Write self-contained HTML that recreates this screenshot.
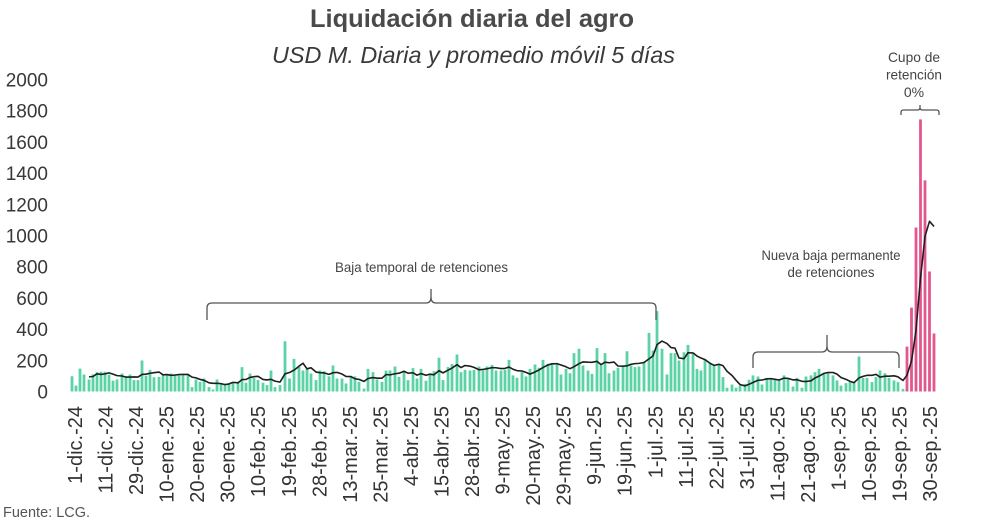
<!DOCTYPE html>
<html>
<head>
<meta charset="utf-8">
<style>
  html,body{margin:0;padding:0;background:#fff;}
  svg{display:block;}
  text{font-family:"Liberation Sans",Arial,sans-serif;}
</style>
</head>
<body>
<svg width="992" height="524" viewBox="0 0 992 524" xmlns="http://www.w3.org/2000/svg">
  <rect width="992" height="524" fill="#fff"/>
  <!-- Title -->
  <text x="472" y="27" text-anchor="middle" font-size="25" font-weight="bold" fill="#4a4a4a" textLength="324" lengthAdjust="spacingAndGlyphs">Liquidación diaria del agro</text>
  <text x="473.5" y="63" text-anchor="middle" font-size="23" font-style="italic" fill="#3a3a3a" textLength="403" lengthAdjust="spacingAndGlyphs">USD M. Diaria y promedio móvil 5 días</text>

  <!-- Y axis labels -->
  <g font-size="19" fill="#383838" text-anchor="end">
    <text x="48" y="398.5">0</text>
    <text x="48" y="367.3">200</text>
    <text x="48" y="336.1">400</text>
    <text x="48" y="304.9">600</text>
    <text x="48" y="273.7">800</text>
    <text x="48" y="242.5">1000</text>
    <text x="48" y="211.3">1200</text>
    <text x="48" y="180.1">1400</text>
    <text x="48" y="148.9">1600</text>
    <text x="48" y="117.7">1800</text>
    <text x="48" y="86.5">2000</text>
  </g>

  <!-- Bars -->
  <g transform="translate(0,391.5) scale(1,-0.156)">
    <path fill="none" stroke="#5cd3a6" stroke-width="2.8" d="M72 0V98M76 0V38M80 0V147M84 0V109M89 0V77M93 0V110M97 0V124M101 0V127M105 0V127M109 0V108M113 0V70M117 0V77M122 0V115M126 0V92M130 0V109M134 0V73M138 0V73M142 0V199M146 0V101M150 0V139M154 0V91M159 0V94M163 0V109M167 0V109M171 0V115M175 0V101M179 0V111M183 0V111M188 0V109M192 0V28M196 0V77M200 0V62M204 0V83M209 0V28M213 0V13M217 0V77M221 0V51M225 0V51M229 0V51M233 0V62M238 0V62M242 0V156M246 0V56M250 0V115M254 0V86M258 0V73M263 0V56M267 0V41M271 0V135M275 0V28M280 0V41M285 0V322M289.5 0V83M294 0V209M299 0V156M303 0V135M307 0V145M311 0V115M316 0V73M320 0V135M324 0V130M329 0V97M333 0V167M337 0V83M342 0V83M346 0V51M351 0V94M355 0V97M359 0V62M364 0V19M368 0V145M373 0V124M377 0V77M382 0V62M386 0V135M390 0V135M395 0V160M399 0V94M404 0V124M408 0V73M413 0V150M417 0V83M421 0V145M426 0V69M430 0V109M434 0V130M439 0V216M443 0V73M448 0V156M452 0V177M457 0V237M461 0V124M465 0V139M470 0V135M474 0V139M479 0V160M483 0V135M487 0V160M492 0V171M496 0V135M501 0V135M505 0V139M509 0V203M513 0V103M517 0V88M522 0V124M526 0V96M530 0V145M535 0V173M539 0V152M543 0V203M548 0V178M552 0V182M557 0V178M561 0V109M566 0V145M570 0V117M574 0V246M579 0V274M583 0V167M588 0V135M592 0V113M597 0V278M601 0V167M605 0V246M609 0V117M614 0V135M618 0V152M623 0V160M627 0V258M631 0V167M635 0V156M639 0V160M644 0V188M649 0V376M653 0V263M657 0V515M662 0V274M667 0V109M671 0V246M675 0V246M679 0V199M684 0V252M688 0V299M693 0V241M697 0V145M701 0V135M705 0V203M710 0V182M714 0V173M719 0V178M723 0V92M727 0V24M732 0V45M736 0V24M740 0V38M745 0V49M749 0V75M753 0V103M758 0V96M762 0V45M767 0V87M771 0V81M775 0V81M779 0V75M784 0V103M788 0V81M793 0V32M797 0V87M802 0V24M806 0V96M811 0V103M815 0V124M819 0V145M824 0V113M828 0V124M833 0V103M837 0V71M841 0V38M846 0V54M850 0V60M854 0V60M859 0V224M863 0V87M867 0V87M872 0V60M876 0V92M880 0V135M885 0V117M889 0V87M894 0V71M898 0V60M903 0V17"/>
    <path fill="none" stroke="#e2578c" stroke-width="2.8" d="M907 0V288M911.5 0V538M916 0V1051M920.5 0V1744M925 0V1353M929.5 0V769M934 0V372"/>
    <polyline fill="none" stroke="#1e1e1e" stroke-width="1.6" stroke-linejoin="round" vector-effect="non-scaling-stroke" points="89,93.8 93,96.2 97,113.4 101,109.4 105,113 109,119.2 113,111.2 117,101.8 122,99.4 126,92.4 130,92.6 134,93.2 138,92.4 142,109.2 146,111 150,117 154,120.6 159,124.8 163,106.8 167,108.4 171,103.6 175,105.6 179,109 183,109.4 188,109.4 192,92 196,87.2 200,77.4 204,71.8 209,55.6 213,52.6 217,52.6 221,50.4 225,44 229,48.6 233,58.4 238,55.4 242,76.4 246,77.4 250,90.2 254,95 258,97.2 263,77.2 267,74.2 271,78.2 275,66.6 280,60.2 285,113.4 289.5,121.8 294,136.6 299,162.2 303,181 307,145.6 311,152 316,124.8 320,120.6 324,119.6 329,110 333,120.4 337,122.4 342,112 346,96.2 351,95.6 355,81.6 359,77.4 364,64.6 368,83.4 373,89.4 377,85.4 382,85.4 386,108.6 390,106.6 395,113.8 399,117.2 404,129.6 408,117.2 413,120.2 417,104.8 421,115 426,104 430,111.2 434,107.2 439,133.8 443,119.4 448,136.8 452,150.4 457,171.8 461,153.4 465,166.6 470,162.4 474,154.8 479,139.4 483,141.6 487,145.8 492,153 496,152.2 501,147.2 505,148 509,156.6 513,143 517,133.6 522,131.4 526,122.8 530,111.2 535,125.2 539,138 543,153.8 548,170.2 552,177.6 557,178.6 561,170 566,158.4 570,146.2 574,159 579,178.2 583,189.8 588,187.8 592,187 597,193.4 601,172 605,187.8 609,184.2 614,188.6 618,163.4 623,162 627,164.4 631,174.4 635,178.6 639,180.2 644,185.8 649,209.4 653,228.6 657,300.4 662,323.2 667,307.4 671,281.4 675,278 679,214.8 684,210.4 688,248.4 693,247.4 697,227.2 701,214.4 705,204.6 710,181.2 714,167.6 719,174.2 723,165.6 727,129.8 732,102.4 736,72.6 740,44.6 745,36 749,46.2 753,57.8 758,72.2 762,73.6 767,81.2 771,82.4 775,78 779,73.8 784,85.4 788,84.2 793,74.4 797,75.6 802,65.4 806,64 811,68.4 815,86.8 819,98.4 824,116.2 828,121.8 833,121.8 837,111.2 841,89.8 846,78 850,65.2 854,56.6 859,87.2 863,97 867,103.6 872,103.6 876,110 880,92.2 885,98.2 889,98.2 894,100.4 898,94 903,70.4 907,104.6 911.5,194.8 916,390.8 920.5,727.6 925,994.8 929.5,1091 934,1057.8"/>
  </g>

  <!-- Braces -->
  <g fill="none" stroke="#555" stroke-width="1.3">
    <path d="M207,320 L207,308 Q207,303 212,303 L426,303 Q431,303 431,297 L431,289 L431,297 Q431,303 436,303 L651,303 Q656,303 656,308 L656,320"/>
    <path d="M753,368 L753,357 Q753,352 758,352 L822,352 Q827,352 827,346 L827,335 L827,346 Q827,352 832,352 L894,352 Q899,352 899,357 L899,368"/>
    <path d="M901,115 L901,112.5 Q901,110 903.5,110 L917.5,110 Q920,110 920,107.5 L920,105 L920,107.5 Q920,110 922.5,110 L936.5,110 Q939,110 939,112.5 L939,115"/>
  </g>

  <!-- Annotations -->
  <g font-size="14" fill="#444" text-anchor="middle">
    <text x="421.5" y="272" textLength="173" lengthAdjust="spacingAndGlyphs">Baja temporal de retenciones</text>
    <text x="831" y="260" textLength="139" lengthAdjust="spacingAndGlyphs">Nueva baja permanente</text>
    <text x="831" y="277" textLength="87" lengthAdjust="spacingAndGlyphs">de retenciones</text>
    <text x="914" y="62" textLength="52" lengthAdjust="spacingAndGlyphs">Cupo de</text>
    <text x="914" y="79.5" textLength="56" lengthAdjust="spacingAndGlyphs">retención</text>
    <text x="914" y="97">0%</text>
  </g>

  <!-- X axis labels -->
  <g font-size="20" fill="#333" text-anchor="end">
    <text transform="translate(82,406) rotate(-90)">1-dic.-24</text>
    <text transform="translate(112.5,406) rotate(-90)">11-dic.-24</text>
    <text transform="translate(143.1,406) rotate(-90)">29-dic.-24</text>
    <text transform="translate(173.6,406) rotate(-90)">10-ene.-25</text>
    <text transform="translate(204.2,406) rotate(-90)">20-ene.-25</text>
    <text transform="translate(234.7,406) rotate(-90)">30-ene.-25</text>
    <text transform="translate(265.2,406) rotate(-90)">10-feb.-25</text>
    <text transform="translate(295.8,406) rotate(-90)">19-feb.-25</text>
    <text transform="translate(326.3,406) rotate(-90)">28-feb.-25</text>
    <text transform="translate(356.9,406) rotate(-90)">13-mar.-25</text>
    <text transform="translate(387.4,406) rotate(-90)">25-mar.-25</text>
    <text transform="translate(417.9,406) rotate(-90)">4-abr.-25</text>
    <text transform="translate(448.5,406) rotate(-90)">15-abr.-25</text>
    <text transform="translate(479,406) rotate(-90)">28-abr.-25</text>
    <text transform="translate(509.6,406) rotate(-90)">9-may.-25</text>
    <text transform="translate(540.1,406) rotate(-90)">20-may.-25</text>
    <text transform="translate(570.6,406) rotate(-90)">29-may.-25</text>
    <text transform="translate(601.2,406) rotate(-90)">9-jun.-25</text>
    <text transform="translate(631.7,406) rotate(-90)">19-jun.-25</text>
    <text transform="translate(662.3,406) rotate(-90)">1-jul.-25</text>
    <text transform="translate(692.8,406) rotate(-90)">11-jul.-25</text>
    <text transform="translate(723.3,406) rotate(-90)">22-jul.-25</text>
    <text transform="translate(753.9,406) rotate(-90)">31-jul.-25</text>
    <text transform="translate(784.4,406) rotate(-90)">11-ago.-25</text>
    <text transform="translate(815,406) rotate(-90)">21-ago.-25</text>
    <text transform="translate(845.5,406) rotate(-90)">1-sep.-25</text>
    <text transform="translate(876,406) rotate(-90)">10-sep.-25</text>
    <text transform="translate(906.6,406) rotate(-90)">19-sep.-25</text>
    <text transform="translate(937.1,406) rotate(-90)">30-sep.-25</text>
  </g>

  <!-- Source -->
  <text x="3" y="517" font-size="14.5" fill="#555">Fuente: LCG.</text>
</svg>
</body>
</html>
